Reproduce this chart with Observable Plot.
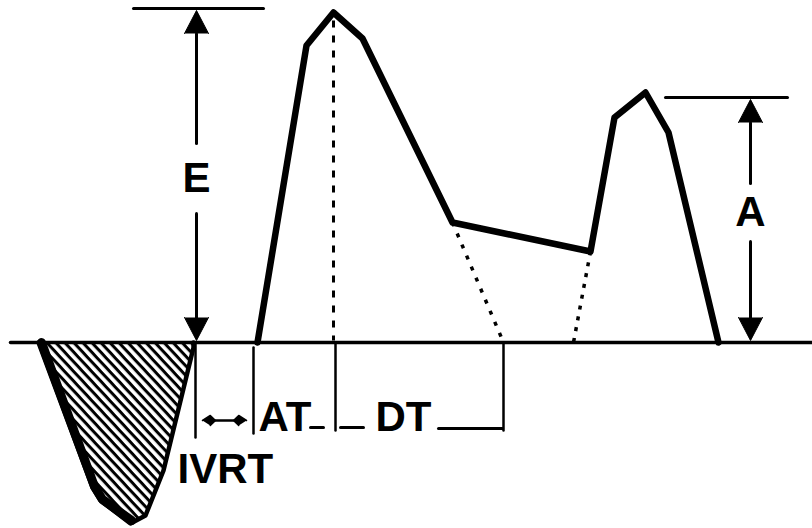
<!DOCTYPE html>
<html>
<head>
<meta charset="utf-8">
<script src="https://cdn.jsdelivr.net/npm/d3@7"></script>
<script src="https://cdn.jsdelivr.net/npm/@observablehq/plot@0.6"></script>
<style>
  html, body { margin: 0; padding: 0; background: #fff; }
  #chart svg { display: block; }
</style>
</head>
<body>
<div id="chart"></div>
<script>
// ---- Data (time along x, velocity along y; baseline velocity = 0) ----
// Forward mitral inflow: E wave then A wave
const flowT = [257, 306, 333, 362, 452, 590, 614, 645, 668, 718];
const flowV = [0, 297, 330, 304, 120, 91, 225, 250, 210, 0];
// Reverse (below baseline) hatched flow
const revT = [38, 92, 100, 130, 145, 163, 193, 193];
const revV = [0, -145, -158, -181, -173, -128, -5, 0];
// Thick leading edge of the reverse flow
const revEdgeT = [41, 94, 102, 131];
const revEdgeV = [0, -144, -157, -178];
// Dotted construction lines [t, v]
const guideE = [[333, 322], [333, 2]];
const guideDT = [[452, 120], [503, 0]];
const guideA = [[590, 91], [573, 0]];
// Baseline span
const baseT = [10, 812];
// Dimension arrows (E and A)
const dimLabels = ["E", "A"];
const dimT = [196, 750];
const dimTop = [334, 245];
const dimText = [164, 130];
const dimGap = [35, 29];
const dimCapL = [133, 665];
const dimCapR = [263, 787];
// Interval markers below baseline
const tickT = [195, 253, 335, 503];
const tickTop = [0, -5, 0, 0];
const tickBot = [-95, -91, -88, -88];
const intervalLabels = ["IVRT", "AT", "DT"];
const intervalT = [177, 258, 375];
const intervalV = [-127, -75, -75];
const dashSegs = [[310, 323, -85], [340, 363, -85], [438, 502, -86]];
const ivrtArrow = [202, 246, -78];

// ---- Build mark data ----
const flow = flowT.map((t, i) => ({t, v: flowV[i]}));
const rev = revT.map((t, i) => ({t, v: revV[i]}));
const revEdge = revEdgeT.map((t, i) => ({t, v: revEdgeV[i]}));
const toPts = seg => seg.map(([t, v]) => ({t, v}));

const HEAD_L = 25, HEAD_W = 12;
const shafts = [], heads = [], caps = [];
dimLabels.forEach((lab, i) => {
  const x = dimT[i], top = dimTop[i], mid = dimText[i], g = dimGap[i];
  shafts.push([{t: x, v: top - HEAD_L}, {t: x, v: mid + g}]);
  shafts.push([{t: x, v: mid - g}, {t: x, v: 0 + HEAD_L}]);
  heads.push([{t: x - HEAD_W, v: top - HEAD_L}, {t: x, v: top - 2}, {t: x + HEAD_W, v: top - HEAD_L}]);
  heads.push([{t: x - HEAD_W, v: HEAD_L}, {t: x, v: 2}, {t: x + HEAD_W, v: HEAD_L}]);
  caps.push([{t: dimCapL[i], v: top}, {t: dimCapR[i], v: top}]);
});
const dims = dimLabels.map((l, i) => ({l, t: dimT[i], v: dimText[i]}));
const ticks = tickT.map((t, i) => [{t, v: tickTop[i]}, {t, v: tickBot[i]}]);
const intervals = intervalLabels.map((l, i) => ({l, t: intervalT[i], v: intervalV[i]}));
const dashes = dashSegs.map(([a, b, v]) => [{t: a, v}, {t: b, v}]);
const [ia, ib, iv] = ivrtArrow;
const smallL = 13, smallW = 5;
const ivrtLine = [{t: ia + smallL, v: iv}, {t: ib - smallL, v: iv}];
const smallHeads = [
  [{t: ia, v: iv}, {t: ia + smallL * 0.6, v: iv + smallW}, {t: ia + smallL, v: iv}, {t: ia + smallL * 0.6, v: iv - smallW}],
  [{t: ib, v: iv}, {t: ib - smallL * 0.6, v: iv + smallW}, {t: ib - smallL, v: iv}, {t: ib - smallL * 0.6, v: iv - smallW}]
];

const lineSet = (arr, opts) => arr.map(d => Plot.line(d, {x: "t", y: "v", ...opts}));
const FONT = "'Liberation Sans', Arial, Helvetica, sans-serif";

const chart = Plot.plot({
  width: 812,
  height: 528,
  margin: 0,
  x: {domain: [0, 812], axis: null},
  y: {domain: [-186, 342], axis: null},
  marks: [
    // hatched reverse flow
    Plot.line(rev, {x: "t", y: "v", fill: "url(#hatch)", stroke: "black", strokeWidth: 4.5, strokeLinejoin: "round"}),
    Plot.line(revEdge, {x: "t", y: "v", stroke: "black", strokeWidth: 9, strokeLinejoin: "round"}),
    // baseline
    Plot.line(baseT.map(t => ({t, v: 0})), {x: "t", y: "v", stroke: "black", strokeWidth: 3.5}),
    // dotted guides
    Plot.line(toPts(guideE), {x: "t", y: "v", stroke: "black", strokeWidth: 3, strokeDasharray: "7,8", strokeLinecap: "butt"}),
    Plot.line(toPts(guideDT), {x: "t", y: "v", stroke: "black", strokeWidth: 3.5, strokeDasharray: "4,8", strokeLinecap: "butt"}),
    Plot.line(toPts(guideA), {x: "t", y: "v", stroke: "black", strokeWidth: 3.5, strokeDasharray: "4,7", strokeLinecap: "butt"}),
    // flow profile
    Plot.line(flow, {x: "t", y: "v", stroke: "black", strokeWidth: 6.5, strokeLinejoin: "round"}),
    // dimension arrows
    ...lineSet(caps, {stroke: "black", strokeWidth: 3}),
    ...lineSet(shafts, {stroke: "black", strokeWidth: 3}),
    ...lineSet(heads, {fill: "black", stroke: "black", strokeWidth: 1}),
    Plot.text(dims, {x: "t", y: "v", text: "l", fontSize: 42, fontWeight: "bold", fontFamily: FONT, fill: "black"}),
    // interval markers
    ...lineSet(ticks, {stroke: "black", strokeWidth: 2.5}),
    ...lineSet(dashes, {stroke: "black", strokeWidth: 3}),
    Plot.line(ivrtLine, {x: "t", y: "v", stroke: "black", strokeWidth: 2.5}),
    ...lineSet(smallHeads, {fill: "black", stroke: "black", strokeWidth: 1.5}),
    Plot.text(intervals, {x: "t", y: "v", text: "l", textAnchor: "start", fontSize: 42, fontWeight: "bold", fontFamily: FONT, fill: "black"})
  ]
});

chart.insertAdjacentHTML("afterbegin",
  `<defs><pattern id="hatch" patternUnits="userSpaceOnUse" width="6.6" height="6.6" patternTransform="rotate(47)">
     <rect width="6.6" height="6.6" fill="white"></rect>
     <rect width="6.6" height="3" fill="black"></rect>
   </pattern></defs>`);

document.getElementById("chart").appendChild(chart);
</script>
</body>
</html>
